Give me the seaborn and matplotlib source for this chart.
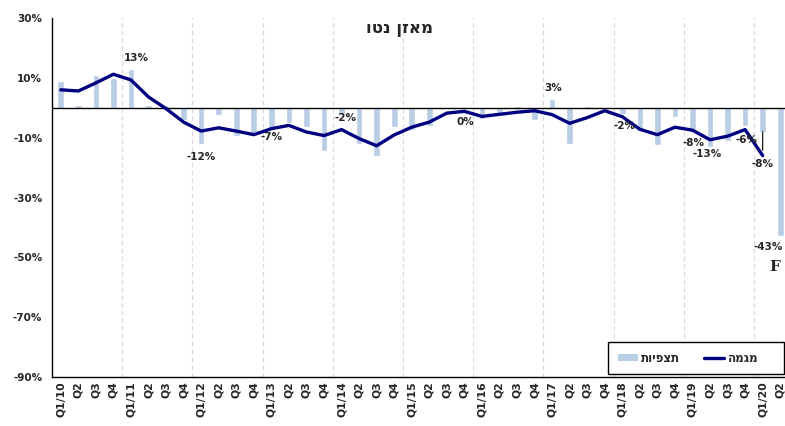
import numpy as np
import pandas as pd
import matplotlib
matplotlib.use("Agg")
import matplotlib.pyplot as plt
import seaborn as sns
from matplotlib.patches import Patch, Rectangle
from matplotlib.lines import Line2D

# ---------------- data ----------------
quarters = ["Q1/10", "Q2", "Q3", "Q4",
            "Q1/11", "Q2", "Q3", "Q4",
            "Q1/12", "Q2", "Q3", "Q4",
            "Q1/13", "Q2", "Q3", "Q4",
            "Q1/14", "Q2", "Q3", "Q4",
            "Q1/15", "Q2", "Q3", "Q4",
            "Q1/16", "Q2", "Q3", "Q4",
            "Q1/17", "Q2", "Q3", "Q4",
            "Q1/18", "Q2", "Q3", "Q4",
            "Q1/19", "Q2", "Q3", "Q4",
            "Q1/20", "Q2"]

observations = [9, 1, 11, 10,
                13, 1, 1, -4,
                -12, -2.5, -9.5, -8.5,
                -7, -5, -6.5, -14.3,
                -2, -12, -16, -6.5,
                -7.3, -6, -0.5, 0,
                -3.7, -2, 0.5, -4,
                3, -12, 0.5, -0.8,
                -2, -7.8, -12.4, -3.2,
                -8, -13, -11, -6,
                -8, -43]

trend = [6, 5.6, 8.3, 11.2,
         9.3, 3.6, -0.3, -4.8,
         -7.8, -6.7, -7.8, -9,
         -7, -5.9, -8.1, -9.3,
         -7.3, -10.3, -12.7, -9.1,
         -6.5, -4.8, -1.8, -1.2,
         -2.9, -2.2, -1.5, -1,
         -2.3, -5.2, -3.3, -1.0,
         -3.0, -7.2, -9.0, -6.5,
         -7.5, -10.7, -9.5, -7.3,
         -16, np.nan]

label_index = [4, 8, 12, 16, 23, 28, 32, 36, 37, 39, 40, 41]
label_text = ["13%", "-12%", "-7%", "-2%", "0%", "3%", "-2%", "-8%", "-13%", "-6%", "-8%", "-43%"]

title_text = "מאזן נטו"
legend_obs = "תצפיות"
legend_trend = "מגמה"
y_ticks = [30, 10, -10, -30, -50, -70, -90]
forecast_mark = "F"

# label offsets in pixels (style)
label_offsets = [(5, 10.5), (0, -13.5), (0, -8.5), (4, -4.5), (1, -14.5), (1, 10.5),
                 (2, -12.5), (1, -11.5), (-3, -7.5), (1, -14.5), (0, -32.5), (-12, -10.5)]


def renderer_does_bidi():
    """Check whether the text renderer already lays Hebrew out right-to-left."""
    f = plt.figure(figsize=(3, 1), dpi=100)
    f.text(0.05, 0.3, "לאאאא", fontsize=30, family="DejaVu Sans")
    f.canvas.draw()
    a = np.asarray(f.canvas.buffer_rgba())[:, :, 0]
    plt.close(f)
    ink = a < 128
    rows = np.where(ink.any(1))[0]
    cols_all = np.where(ink.any(0))[0]
    if len(rows) == 0:
        return False
    top = rows.min()
    cols_top = np.where(ink[top:top + 4].any(0))[0]
    rel = (cols_top.mean() - cols_all.min()) / (cols_all.max() - cols_all.min() + 1e-9)
    return rel > 0.5


BIDI = renderer_does_bidi()


def visual(s):
    # lay Hebrew out right-to-left when the renderer does not do it itself
    return s if BIDI else s[::-1]


sns.set_theme(style="white")
plt.rcParams['font.family'] = ['DejaVu Sans']
plt.rcParams['font.weight'] = 'bold'

W, H = 785, 426
fig = plt.figure(figsize=(W / 100, H / 100), dpi=100)
ax = fig.add_axes([52 / W, 49 / H, 737 / W, 359 / H])

df = pd.DataFrame({"idx": np.arange(len(quarters)), "obs": observations, "trend": trend})

BAR = "#B9CDE5"
LINE = "#000080"

sns.barplot(data=df, x="idx", y="obs", color=BAR, saturation=1, width=0.38, ax=ax, zorder=2)
sns.lineplot(data=df.dropna(), x="idx", y="trend", color=LINE, lw=2.4, ax=ax, zorder=4)

ax.set_xlim(-0.5, len(quarters) - 0.5)
ax.set_ylim(-90, 30)
ax.set_yticks(y_ticks)
ax.set_yticklabels([f"{v}%" for v in y_ticks], fontsize=7.5, fontweight="bold")
ax.set_xticks(np.arange(len(quarters)))
ax.set_xticklabels(quarters, rotation=90, fontsize=7.8, fontweight="bold", va="top")
ax.set_xlabel("")
ax.set_ylabel("")

for s in ["top", "right"]:
    ax.spines[s].set_visible(False)
for s in ["left", "bottom"]:
    ax.spines[s].set_color("black")
    ax.spines[s].set_linewidth(1)

ax.tick_params(axis="y", direction="out", length=4, width=1, color="black", pad=3)
ax.tick_params(axis="x", length=0, pad=3)
ax.grid(False)

# year separators
for i in range(4, len(quarters), 4):
    ax.axvline(i - 0.5, color="#D9D9D9", ls=(0, (4, 3)), lw=0.8, zorder=0)

ax.axhline(0, color="black", lw=1, zorder=3)

# title
ax.text(0.472, 0.972, visual(title_text), transform=ax.transAxes, ha="center", va="center",
        fontsize=12, fontweight="bold")

# data labels
for k, (i, t) in enumerate(zip(label_index, label_text)):
    dx, dy = label_offsets[k]
    kw = {}
    if k == 10:
        kw["arrowprops"] = dict(arrowstyle="-", color="black", lw=0.8, shrinkA=4, shrinkB=0)
    ax.annotate(t, xy=(i, observations[i]), xytext=(dx, dy), textcoords="offset pixels",
                ha="center", va="center", fontsize=7.5, fontweight="bold", zorder=6, **kw)

ax.annotate(forecast_mark, xy=(label_index[-1], observations[label_index[-1]]),
            xytext=(-5, -30.5), textcoords="offset pixels", ha="center", va="center",
            fontsize=11, fontweight="bold", family="DejaVu Serif", zorder=6)

# legend box
fig.patches.append(Rectangle((608 / W, (H - 374) / H), 176 / W, 32 / H, transform=fig.transFigure,
                             facecolor="white", edgecolor="black", lw=1, zorder=5))
handles = [Patch(facecolor=BAR, edgecolor="none"), Line2D([0], [0], color=LINE, lw=2.4)]
fig.legend(handles, [visual(legend_obs), visual(legend_trend)], loc="center",
           bbox_to_anchor=(688 / W, (H - 358) / H), ncol=2, frameon=False,
           prop={"size": 8.5, "weight": "bold"}, handlelength=1.7, handleheight=0.5,
           columnspacing=2.0, handletextpad=0.3)

fig.savefig("out.png", dpi=100)
